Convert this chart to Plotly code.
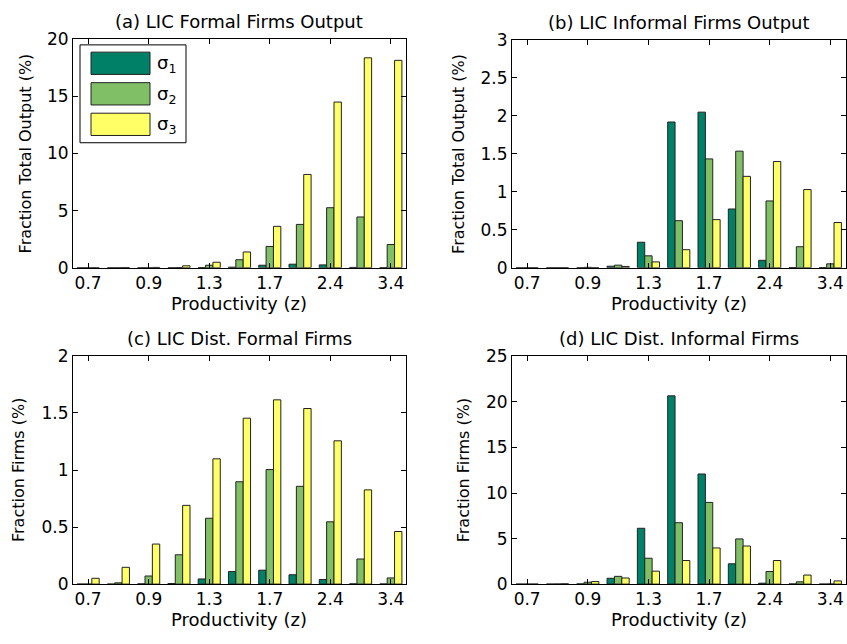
import plotly.graph_objects as go

W, H = 847, 644

groups = list(range(1, 12))
tick_vals = [1, 3, 5, 7, 9, 11]
tick_text = ["0.7", "0.9", "1.3", "1.7", "2.4", "3.4"]
series_names = ["σ<sub>1</sub>", "σ<sub>2</sub>", "σ<sub>3</sub>"]
colors = ["#008066", "#80BF66", "#FFFF66"]

# (a) LIC Formal Firms Output
a_s1 = [0.0, 0.0, 0.0, 0.0, 0.02, 0.05, 0.22, 0.31, 0.25, 0.03, 0.01]
a_s2 = [0.0, 0.0, 0.0, 0.02, 0.22, 0.7, 1.86, 3.79, 5.25, 4.44, 2.03]
a_s3 = [0.0, 0.02, 0.03, 0.17, 0.48, 1.38, 3.62, 8.16, 14.49, 18.36, 18.14]
# (b) LIC Informal Firms Output
b_s1 = [0.0, 0.0, 0.0, 0.02, 0.336, 1.92, 2.05, 0.774, 0.098, 0.003, 0.002]
b_s2 = [0.0, 0.0, 0.005, 0.034, 0.157, 0.62, 1.434, 1.536, 0.88, 0.277, 0.051]
b_s3 = [0.0, 0.0, 0.0, 0.017, 0.077, 0.238, 0.634, 1.204, 1.4, 1.03, 0.596]
# (c) LIC Dist. Formal Firms
c_s1 = [0.0, 0.0, 0.002, 0.005, 0.045, 0.11, 0.122, 0.082, 0.04, 0.002, 0.001]
c_s2 = [0.0, 0.011, 0.071, 0.257, 0.577, 0.897, 1.004, 0.857, 0.546, 0.22, 0.054]
c_s3 = [0.051, 0.147, 0.351, 0.69, 1.098, 1.454, 1.615, 1.539, 1.256, 0.826, 0.461]
# (d) LIC Dist. Informal Firms
d_s1 = [0.0, 0.0, 0.02, 0.64, 6.13, 20.67, 12.09, 2.23, 0.1, 0.02, 0.0]
d_s2 = [0.0, 0.01, 0.21, 0.85, 2.84, 6.74, 8.97, 4.96, 1.38, 0.25, 0.01]
d_s3 = [0.0, 0.03, 0.28, 0.67, 1.42, 2.59, 3.97, 4.18, 2.59, 0.99, 0.35]

panels = [
    dict(title="(a) LIC Formal Firms Output", ylabel="Fraction Total Output (%)",
         data=[a_s1, a_s2, a_s3], yr=[0, 20], dt=5),
    dict(title="(b) LIC Informal Firms Output", ylabel="Fraction Total Output (%)",
         data=[b_s1, b_s2, b_s3], yr=[0, 3], dt=0.5),
    dict(title="(c) LIC Dist. Formal Firms", ylabel="Fraction Firms (%)",
         data=[c_s1, c_s2, c_s3], yr=[0, 2], dt=0.5),
    dict(title="(d) LIC Dist. Informal Firms", ylabel="Fraction Firms (%)",
         data=[d_s1, d_s2, d_s3], yr=[0, 25], dt=5),
]

# plot-area boxes in pixels: (left, right, top, bottom)
boxes = [(73, 406, 30, 266), (512, 845.5, 31, 266),
         (73, 406, 357, 592.5), (512, 845.5, 357.5, 592.5)]
ylab_x = [25, 459, 18, 463]

def px(x):
    return x / W

def py(y):
    return 1 - y / H

FONT = "DejaVu Sans, Liberation Sans, Arial, sans-serif"
FS_TICK = 17
FS_TXT = 18
FS_YLAB = 16
fig = go.Figure()
annotations = []
shapes = []

for i, p in enumerate(panels):
    n = "" if i == 0 else str(i + 1)
    l, r, t, b = boxes[i]
    for k in range(3):
        fig.add_trace(go.Bar(
            x=groups, y=p["data"][k], name=series_names[k],
            marker=dict(color=colors[k], line=dict(color="#222222", width=1)),
            xaxis="x" + n, yaxis="y" + n, showlegend=False,
        ))
    axcommon = dict(showline=True, linecolor="black", linewidth=1, mirror="allticks",
                    ticks="inside", ticklen=5, tickcolor="black", showgrid=False,
                    zeroline=False, tickfont=dict(family=FONT, size=FS_TICK, color="black"))
    fig.layout["xaxis" + n] = dict(domain=[px(l), px(r)], anchor="y" + n, range=[0.5, 11.5],
                                   tickmode="array", tickvals=tick_vals, ticktext=tick_text,
                                   **axcommon)
    fig.layout["yaxis" + n] = dict(domain=[py(b), py(t)], anchor="x" + n, range=p["yr"],
                                   dtick=p["dt"], tick0=0, **axcommon)
    annotations.append(dict(text=p["title"], x=px((l + r) / 2), y=py(t - 18), xref="paper",
                            yref="paper", showarrow=False, xanchor="center", yanchor="middle",
                            font=dict(family=FONT, size=FS_TXT, color="black")))
    annotations.append(dict(text="Productivity (z)", x=px((l + r) / 2), y=py(b + 37),
                            xref="paper", yref="paper", showarrow=False, xanchor="center",
                            yanchor="middle", font=dict(family=FONT, size=FS_TXT, color="black")))
    annotations.append(dict(text=p["ylabel"], x=px(ylab_x[i]), y=py((t + b) / 2), xref="paper",
                            yref="paper", showarrow=False, xanchor="center", yanchor="middle",
                            textangle=-90, font=dict(family=FONT, size=FS_YLAB, color="black")))

# custom MATLAB-style legend in panel (a)
shapes.append(dict(type="rect", xref="paper", yref="paper", x0=px(80), x1=px(186),
                   y0=py(137), y1=py(36), line=dict(color="black", width=1), fillcolor="white"))
rows = [(43.5, 66.5), (75, 98), (106.5, 129.5)]
for k, (y0, y1) in enumerate(rows):
    shapes.append(dict(type="rect", xref="paper", yref="paper", x0=px(91), x1=px(150),
                       y0=py(y1), y1=py(y0), line=dict(color="#222222", width=1),
                       fillcolor=colors[k]))
    annotations.append(dict(text=series_names[k], x=px(155), y=py((y0 + y1) / 2 + 1),
                            xref="paper", yref="paper", showarrow=False, xanchor="left",
                            yanchor="middle", font=dict(family=FONT, size=FS_TXT, color="black")))

fig.update_layout(
    width=W, height=H, margin=dict(l=0, r=0, t=0, b=0),
    paper_bgcolor="white", plot_bgcolor="white",
    barmode="group", bargap=0.27, bargroupgap=0.0,
    annotations=annotations, shapes=shapes,
    font=dict(family=FONT, size=FS_TICK, color="black"),
)

post = (
    "var d=document.getElementById('{plot_id}');"
    "d.style.position='absolute';d.style.left='0px';d.style.top='0px';"
    "var s=document.documentElement.style;s.margin='0';s.padding='0';s.overflow='hidden';"
    "var b=document.body.style;b.margin='0';b.padding='0';b.overflow='hidden';"
)
fig.write_html("out.html", config={"displayModeBar": False}, post_script=post)
